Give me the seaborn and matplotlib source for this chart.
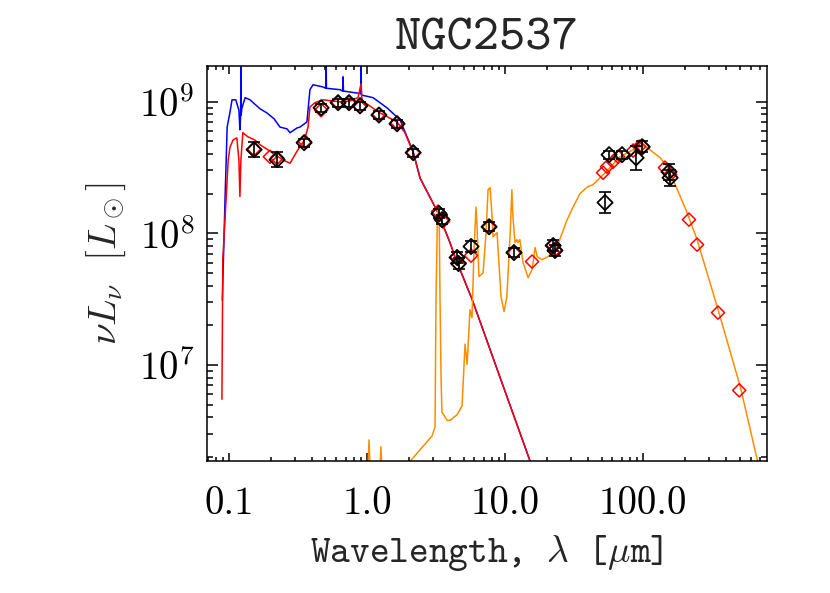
import numpy as np
import pandas as pd
import matplotlib
matplotlib.use("Agg")
import matplotlib.pyplot as plt
import matplotlib.ticker as mticker
import seaborn as sns

# ---------------------------------------------------------------------------
# SED of NGC2537 : wavelength [micron], nu*L_nu [L_sun]
# ---------------------------------------------------------------------------
galaxy_name = "NGC2537"

# unattenuated stellar spectrum (blue)
intrinsic_wave = [0.0895, 0.0936, 0.097, 0.1017, 0.1052, 0.112, 0.118, 0.120, 0.1215,
                  0.122, 0.1225, 0.124, 0.131, 0.142, 0.168, 0.188, 0.212, 0.234, 0.263,
                  0.277, 0.311, 0.327, 0.367, 0.386, 0.406, 0.48, 0.502, 0.505, 0.508,
                  0.637, 0.665, 0.67, 0.675, 0.846, 0.90, 0.905, 0.91, 1.105, 1.396,
                  1.734, 2.16, 2.42, 2.77, 3.27, 3.99, 4.34, 5.76, 6.59, 9.22, 15.2, 20.0]
intrinsic_lum = [3.1e7, 1.8e8, 6.4e8, 8.3e8, 1.03e9, 1.03e9, 8.6e8, 6.1e8, 7.9e8,
                 2.5e9, 7.9e8, 8.9e8, 1.07e9, 1.03e9, 8.8e8, 8.2e8, 7.4e8, 6.4e8, 6.2e8,
                 5.8e8, 6.3e8, 6.4e8, 7.0e8, 1.23e9, 1.34e9, 1.29e9, 1.26e9, 2.5e9, 1.26e9,
                 1.23e9, 1.20e9, 1.54e9, 1.20e9, 1.16e9, 1.15e9, 2.5e9, 1.12e9, 1.07e9, 8.95e8,
                 7.26e8, 4.16e8, 2.63e8, 2.0e8, 1.43e8, 8.5e7, 6.6e7, 3.16e7, 2.14e7, 8.0e6, 1.86e6, 7.1e5]

# attenuated stellar spectrum (red)
stellar_wave = [0.0889, 0.0902, 0.0987, 0.1017, 0.107, 0.114, 0.118, 0.120, 0.122, 0.126,
                0.137, 0.154, 0.168, 0.198, 0.246, 0.277, 0.311, 0.344, 0.361, 0.374,
                0.386, 0.42, 0.48, 0.637, 0.753, 0.86, 0.905, 0.92, 0.967, 1.24, 1.65,
                1.88, 2.16, 2.42, 2.77, 3.27, 3.99, 4.34, 5.76, 6.59, 9.22, 15.2, 20.0]
stellar_lum = [5.5e6, 6.3e7, 3.6e8, 4.5e8, 5.1e8, 5.3e8, 3.6e8, 1.9e8, 3.6e8, 5.8e8,
               5.4e8, 5.1e8, 4.7e8, 4.2e8, 3.6e8, 3.4e8, 4.2e8, 4.9e8, 5.6e8, 6.4e8,
               9.1e8, 9.8e8, 1.03e9, 9.95e8, 1.01e9, 1.07e9, 1.36e9, 1.02e9, 9.8e8, 8.2e8, 7.0e8,
               5.8e8, 4.1e8, 2.63e8, 2.0e8, 1.43e8, 8.5e7, 6.6e7, 3.16e7, 2.14e7, 8.0e6, 1.86e6, 7.1e5]

# dust emission (orange)
dust_wave = [0.98, 1.00, 1.034, 1.07, 1.20, 1.22, 1.26, 1.31, 1.50, 1.90, 2.05, 2.96, 3.11,
             3.16, 3.24, 3.33, 3.38, 3.44, 3.49, 3.80, 3.99, 4.49, 4.88, 5.13, 5.31, 5.57,
             5.76, 5.96, 6.16, 6.26, 6.47, 6.93, 7.28, 7.53, 7.79, 8.05, 8.18, 8.75, 8.90,
             9.35, 9.84, 10.3, 10.9, 11.2, 11.4, 11.8, 12.2, 12.4, 12.8, 13.5, 14.7, 15.7,
             16.5, 17.1, 18.5, 20.5, 23.8, 28.1, 31.1, 34.9, 39.3, 43.4, 53.1, 68.1, 90.6,
             103.0, 133.0, 149.0, 165.0, 208.0, 246.0, 344.0, 505.0, 670.0, 800.0]
dust_lum = [3.2e5, 1.0e6, 2.7e6, 1.0e6, 7.9e5, 1.0e6, 2.4e6, 1.0e6, 6.3e5, 1.26e6, 1.86e6, 2.9e6, 3.4e6,
            3.1e7, 1.51e8, 1.46e8, 3.1e7, 7.8e6, 4.4e6, 3.8e6, 3.8e6, 4.2e6, 4.9e6, 1.44e7, 1.01e7, 2.63e7,
            2.29e7, 7.5e7, 1.58e8, 1.16e8, 4.7e7, 5.0e7, 1.01e8, 2.14e8, 2.22e8, 1.34e8, 9.4e7, 1.01e8, 7.5e7,
            3.3e7, 2.55e7, 3.3e7, 1.01e8, 2.14e8, 1.34e8, 8.5e7, 8.95e7, 8.5e7, 8.95e7, 6.0e7, 4.6e7, 5.3e7,
            7.8e7, 6.65e7, 6.3e7, 6.65e7, 7.9e7, 1.26e8, 1.58e8, 2.0e8, 2.24e8, 2.34e8, 2.88e8, 3.81e8, 4.46e8,
            4.61e8, 3.74e8, 3.2e8, 2.55e8, 1.44e8, 8.95e7, 2.78e7, 6.9e6, 1.93e6, 7.9e5]

# model photometry (red open diamonds)
model_wave = [0.152, 0.198, 0.223, 0.355, 0.465, 0.617, 0.74, 0.89, 1.22, 1.65, 2.16, 3.27,
              3.55, 4.49, 4.6, 5.67, 7.66, 11.6, 15.7, 22.3, 23.0, 51.3, 54.8, 60.6, 65.9,
              84.7, 93.6, 100.0, 144.0, 157.0, 215.0, 246.0, 349.0, 497.0]
model_lum = [4.35e8, 3.81e8, 3.74e8, 4.96e8, 8.6e8, 9.8e8, 9.8e8, 9.1e8, 8.0e8, 6.9e8, 4.09e8, 1.46e8,
             1.23e8, 6.6e7, 5.8e7, 6.77e7, 1.12e8, 7.1e7, 6.1e7, 8.1e7, 7.5e7, 2.88e8, 3.2e8, 3.49e8, 3.81e8,
             4.24e8, 4.54e8, 4.5e8, 3.15e8, 2.79e8, 1.27e8, 8.2e7, 2.5e7, 6.43e6]

# observed photometry (black diamonds) with errors in dex
obs_wave = [0.152, 0.223, 0.35, 0.465, 0.617, 0.74, 0.89, 1.22, 1.65, 2.16, 3.32, 3.5, 4.49,
            4.6, 5.67, 7.66, 11.6, 22.3, 23.0, 53.0, 56.7, 70.4, 89.0, 98.4, 154.0, 157.0]
obs_lum = [4.31e8, 3.62e8, 4.87e8, 8.96e8, 9.8e8, 9.8e8, 9.3e8, 7.9e8, 6.78e8, 4.09e8, 1.41e8, 1.27e8, 6.55e7,
           5.9e7, 7.94e7, 1.12e8, 7.14e7, 8.07e7, 7.4e7, 1.71e8, 3.95e8, 3.95e8, 3.74e8, 4.54e8, 2.93e8, 2.64e8]
obs_err_dex = [0.055, 0.055, 0.03, 0.03, 0.03, 0.03, 0.03, 0.03, 0.03, 0.03, 0.035, 0.035, 0.045,
               0.045, 0.04, 0.035, 0.035, 0.045, 0.045, 0.08, 0.03, 0.03, 0.09, 0.04, 0.06, 0.06]

x_ticks = [0.1, 1.0, 10.0, 100.0]
x_tick_labels = ["0.1", "1.0", "10.0", "100.0"]
y_ticks = [1e7, 1e8, 1e9]
y_tick_labels = [r"$10^{7}$", r"$10^{8}$", r"$10^{9}$"]

# Configuration
sns.set_style("ticks", {"axes.edgecolor": "black", "xtick.color": "black",
                        "ytick.color": "black", "xtick.direction": "in",
                        "ytick.direction": "in"})
plt.rcParams["mathtext.fontset"] = "cm"
plt.rcParams["font.family"] = ["cmr10", "DejaVu Sans"]
plt.rcParams["axes.formatter.use_mathtext"] = True


def main():
    fig = plt.figure(figsize=(8.3, 5.93), dpi=100)
    ax = fig.add_axes([0.2494, 0.2226, 0.6747, 0.6661])
    ax.set_xscale("log")
    ax.set_yscale("log")

    sns.lineplot(x=intrinsic_wave, y=intrinsic_lum, sort=False, estimator=None,
                 color="#0000ff", lw=1.1, ax=ax)
    sns.lineplot(x=stellar_wave, y=stellar_lum, sort=False, estimator=None,
                 color="#ff0000", lw=1.1, ax=ax)
    sns.lineplot(x=dust_wave, y=dust_lum, sort=False, estimator=None,
                 color="#ff8c00", lw=1.1, ax=ax)

    # model photometry
    sns.scatterplot(x=model_wave, y=model_lum, marker="D", s=45, facecolors="none",
                    edgecolor="#ff0000", linewidth=1.1, ax=ax, zorder=3)

    # observed photometry
    obs = pd.DataFrame({"wave": obs_wave, "lum": obs_lum, "err": obs_err_dex})
    lo = obs["lum"] * (1 - 10 ** (-obs["err"]))
    hi = obs["lum"] * (10 ** obs["err"] - 1)
    ax.errorbar(obs["wave"], obs["lum"], yerr=[lo, hi], fmt="none", ecolor="black",
                elinewidth=1.2, capsize=4, capthick=1.2, zorder=4)
    sns.scatterplot(data=obs, x="wave", y="lum", marker="D", s=60, facecolors="none",
                    edgecolor="black", linewidth=1.3, ax=ax, zorder=5)

    ax.set_xlim(0.0693, 790)
    ax.set_ylim(1.87e6, 1.86e9)

    ax.set_xticks(x_ticks)
    ax.set_xticklabels(x_tick_labels, fontfamily="cmr10")
    ax.set_yticks(y_ticks)
    ax.set_yticklabels(y_tick_labels)
    ax.xaxis.set_minor_locator(mticker.LogLocator(base=10, subs=np.arange(2, 10), numticks=20))
    ax.yaxis.set_minor_locator(mticker.LogLocator(base=10, subs=np.arange(2, 10), numticks=20))
    ax.xaxis.set_minor_formatter(mticker.NullFormatter())
    ax.yaxis.set_minor_formatter(mticker.NullFormatter())

    ax.tick_params(which="both", direction="in", top=True, right=True, width=1.1)
    ax.tick_params(axis="x", which="major", length=6, pad=18, labelsize=28)
    ax.tick_params(axis="x", which="minor", length=3)
    ax.tick_params(axis="y", which="major", length=8, pad=9, labelsize=28)
    ax.tick_params(axis="y", which="minor", length=4)
    for spine in ax.spines.values():
        spine.set_linewidth(1.1)

    ax.set_title(galaxy_name, fontfamily="cmtt10", fontsize=36, pad=12)
    ax.set_xlabel(r"Wavelength, $\lambda$ [$\mu$m]", fontfamily="cmtt10", fontsize=27, labelpad=8)
    ax.set_ylabel(r"$\nu L_\nu\ \ [L_\odot]$", fontsize=28, labelpad=8)

    fig.savefig("out.png", dpi=100)
    plt.close(fig)


if __name__ == "__main__":
    main()
